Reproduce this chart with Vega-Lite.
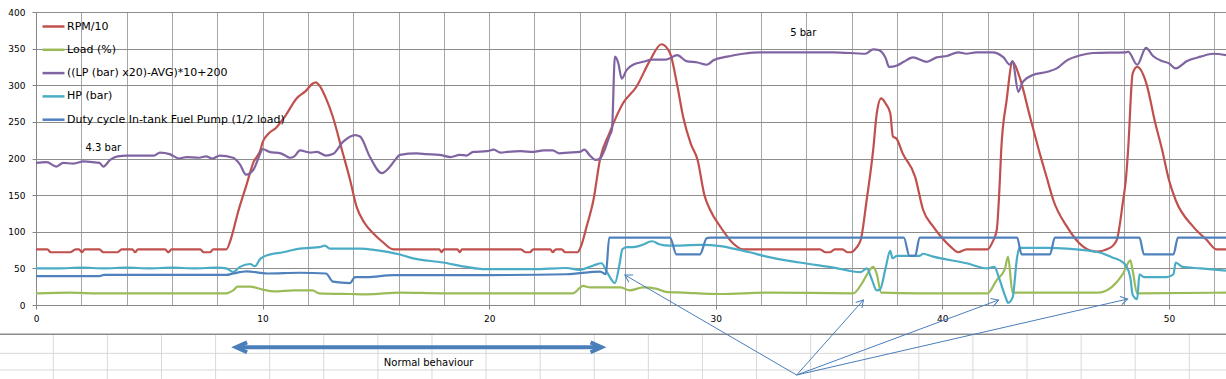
{
  "$schema": "https://vega.github.io/schema/vega-lite/v6.json",
  "width": 1190,
  "height": 293,
  "autosize": "none",
  "padding": {"left": 36, "top": 12, "right": 0, "bottom": 74},
  "background": "white",
  "config": {"view": {"stroke": null}, "font": "DejaVu Sans"},
  "datasets": {
    "rpm": [{"t":0,"v":76},{"t":0.5,"v":76},{"t":0.65,"v":72},{"t":1.5,"v":72},{"t":1.75,"v":76},{"t":1.9,"v":76},{"t":2.02,"v":72},{"t":2.15,"v":76},{"t":2.8,"v":76},{"t":2.97,"v":72},{"t":3.6,"v":72},{"t":3.78,"v":76},{"t":4.25,"v":76},{"t":4.37,"v":72},{"t":4.5,"v":76},{"t":5.7,"v":76},{"t":5.84,"v":72},{"t":5.98,"v":76},{"t":7.25,"v":76},{"t":7.4,"v":72},{"t":7.68,"v":72},{"t":7.82,"v":76},{"t":8.4,"v":76},{"t":8.6,"v":90},{"t":8.9,"v":125},{"t":9.3,"v":165},{"t":9.6,"v":195},{"t":9.9,"v":211},{"t":10.0,"v":222},{"t":10.3,"v":235},{"t":10.6,"v":242},{"t":11.0,"v":258},{"t":11.5,"v":282},{"t":11.9,"v":292},{"t":12.2,"v":302},{"t":12.35,"v":304},{"t":12.5,"v":300},{"t":12.8,"v":282},{"t":13.1,"v":257},{"t":13.5,"v":212},{"t":13.86,"v":171},{"t":14.15,"v":134},{"t":14.5,"v":112},{"t":14.88,"v":98},{"t":15.3,"v":86},{"t":15.77,"v":76},{"t":17.8,"v":76},{"t":17.9,"v":72},{"t":18.0,"v":76},{"t":18.6,"v":76},{"t":18.7,"v":72},{"t":18.8,"v":76},{"t":21.4,"v":76},{"t":21.6,"v":72},{"t":21.8,"v":72},{"t":21.95,"v":76},{"t":22.7,"v":76},{"t":22.8,"v":72},{"t":22.95,"v":76},{"t":23.2,"v":76},{"t":23.35,"v":72},{"t":23.9,"v":72},{"t":24.05,"v":80},{"t":24.3,"v":107},{"t":24.6,"v":143},{"t":24.9,"v":200},{"t":25.3,"v":234},{"t":25.9,"v":275},{"t":26.5,"v":298},{"t":27.1,"v":334},{"t":27.6,"v":356},{"t":27.98,"v":344},{"t":28.3,"v":300},{"t":28.56,"v":257},{"t":28.9,"v":220},{"t":29.2,"v":198},{"t":29.5,"v":150},{"t":29.75,"v":130},{"t":30.2,"v":107},{"t":30.77,"v":84},{"t":31.2,"v":76},{"t":34.6,"v":76},{"t":34.85,"v":72},{"t":35.05,"v":72},{"t":35.25,"v":76},{"t":35.6,"v":76},{"t":35.8,"v":72},{"t":35.95,"v":72},{"t":36.2,"v":78},{"t":36.4,"v":89},{"t":36.66,"v":143},{"t":36.95,"v":212},{"t":37.1,"v":260},{"t":37.3,"v":282},{"t":37.5,"v":275},{"t":37.7,"v":262},{"t":37.82,"v":230},{"t":37.98,"v":227},{"t":38.25,"v":207},{"t":38.8,"v":175},{"t":39.15,"v":130},{"t":39.6,"v":107},{"t":40.0,"v":91},{"t":40.35,"v":80},{"t":40.7,"v":72},{"t":41.07,"v":76},{"t":42.0,"v":76},{"t":42.2,"v":85},{"t":42.4,"v":102},{"t":42.54,"v":171},{"t":42.6,"v":212},{"t":42.84,"v":280},{"t":43.1,"v":332},{"t":43.4,"v":312},{"t":43.87,"v":257},{"t":44.3,"v":207},{"t":44.6,"v":175},{"t":44.9,"v":143},{"t":45.5,"v":107},{"t":46.2,"v":80},{"t":46.8,"v":73},{"t":47.4,"v":78},{"t":47.7,"v":89},{"t":47.98,"v":143},{"t":48.1,"v":171},{"t":48.2,"v":212},{"t":48.4,"v":316},{"t":48.6,"v":325},{"t":49.0,"v":303},{"t":49.4,"v":248},{"t":49.7,"v":212},{"t":50.0,"v":171},{"t":50.3,"v":143},{"t":51.07,"v":107},{"t":51.66,"v":89},{"t":52.1,"v":76},{"t":52.52,"v":76}],
    "load": [{"t":0,"v":16},{"t":1.5,"v":17},{"t":2.5,"v":16},{"t":8.4,"v":16},{"t":8.7,"v":20},{"t":8.9,"v":25},{"t":9.45,"v":25},{"t":10.0,"v":21},{"t":10.5,"v":18.5},{"t":11.4,"v":20},{"t":12.2,"v":20},{"t":12.5,"v":16},{"t":13.86,"v":15},{"t":14.6,"v":14.6},{"t":16.06,"v":17},{"t":17.96,"v":16},{"t":23.7,"v":16},{"t":24.15,"v":26},{"t":24.45,"v":24},{"t":25.8,"v":24},{"t":26.2,"v":20},{"t":26.8,"v":24},{"t":27.4,"v":22},{"t":27.8,"v":18},{"t":28.56,"v":17},{"t":30.2,"v":15},{"t":32.25,"v":17},{"t":36.07,"v":16},{"t":36.5,"v":32},{"t":36.7,"v":43},{"t":36.95,"v":52},{"t":37.1,"v":43},{"t":37.3,"v":17},{"t":39.0,"v":16},{"t":42.0,"v":16},{"t":42.4,"v":34},{"t":42.76,"v":49},{"t":42.9,"v":66},{"t":43.1,"v":17},{"t":46.9,"v":17},{"t":47.5,"v":25},{"t":47.98,"v":43},{"t":48.3,"v":61},{"t":48.4,"v":47},{"t":48.6,"v":16},{"t":52.52,"v":17}],
    "lp": [{"t":0,"v":194},{"t":0.47,"v":195},{"t":0.9,"v":189},{"t":1.2,"v":194},{"t":1.65,"v":193},{"t":2.1,"v":196},{"t":2.5,"v":195},{"t":2.8,"v":194},{"t":2.97,"v":189},{"t":3.27,"v":198},{"t":3.6,"v":203},{"t":4.0,"v":204},{"t":5.2,"v":204},{"t":5.47,"v":208},{"t":5.9,"v":206},{"t":6.3,"v":200},{"t":6.65,"v":202},{"t":7.2,"v":201},{"t":7.5,"v":203},{"t":7.8,"v":200},{"t":8.1,"v":204},{"t":8.7,"v":201},{"t":9.0,"v":192},{"t":9.27,"v":178},{"t":9.6,"v":185},{"t":9.9,"v":207},{"t":10.0,"v":213},{"t":10.3,"v":209},{"t":10.8,"v":207},{"t":11.0,"v":204},{"t":11.2,"v":201},{"t":11.4,"v":203},{"t":11.65,"v":211},{"t":12.1,"v":208},{"t":12.4,"v":209},{"t":12.8,"v":204},{"t":13.1,"v":206},{"t":13.56,"v":223},{"t":14.08,"v":232},{"t":14.3,"v":230},{"t":14.74,"v":202},{"t":15.26,"v":180},{"t":15.6,"v":188},{"t":15.9,"v":200},{"t":16.06,"v":205},{"t":16.8,"v":207},{"t":17.24,"v":206},{"t":17.8,"v":205},{"t":18.3,"v":202},{"t":18.7,"v":205},{"t":19.0,"v":204},{"t":19.3,"v":209},{"t":19.9,"v":210},{"t":20.2,"v":212},{"t":20.5,"v":208},{"t":20.8,"v":209},{"t":21.4,"v":210},{"t":21.95,"v":209},{"t":22.4,"v":211},{"t":22.8,"v":211},{"t":23.1,"v":207},{"t":23.5,"v":208},{"t":24.0,"v":209},{"t":24.2,"v":212},{"t":24.45,"v":204},{"t":24.7,"v":198},{"t":24.9,"v":200},{"t":25.1,"v":212},{"t":25.3,"v":230},{"t":25.42,"v":240},{"t":25.55,"v":339},{"t":25.7,"v":330},{"t":25.85,"v":309},{"t":26.07,"v":321},{"t":26.35,"v":328},{"t":26.8,"v":332},{"t":27.2,"v":335},{"t":27.8,"v":335},{"t":28.3,"v":341},{"t":28.7,"v":333},{"t":29.2,"v":331},{"t":29.6,"v":328},{"t":29.9,"v":334},{"t":30.5,"v":339},{"t":30.8,"v":341},{"t":31.2,"v":343},{"t":31.95,"v":345},{"t":32.5,"v":345},{"t":33.7,"v":345},{"t":35.2,"v":345},{"t":36.6,"v":343},{"t":36.95,"v":349},{"t":37.2,"v":348},{"t":37.5,"v":337},{"t":37.65,"v":325},{"t":38.0,"v":327},{"t":38.3,"v":332},{"t":38.7,"v":338},{"t":39.3,"v":332},{"t":39.75,"v":338},{"t":40.2,"v":340},{"t":40.7,"v":345},{"t":41.07,"v":343},{"t":41.5,"v":345},{"t":42.2,"v":345},{"t":42.7,"v":338},{"t":42.98,"v":328},{"t":43.1,"v":333},{"t":43.35,"v":291},{"t":43.56,"v":305},{"t":44.0,"v":314},{"t":44.6,"v":318},{"t":45.05,"v":323},{"t":45.5,"v":334},{"t":46.1,"v":341},{"t":46.65,"v":344},{"t":48.1,"v":345},{"t":48.2,"v":346},{"t":48.6,"v":328},{"t":48.99,"v":351},{"t":49.3,"v":340},{"t":49.7,"v":333},{"t":50.0,"v":330},{"t":50.3,"v":323},{"t":50.8,"v":333},{"t":51.4,"v":339},{"t":51.95,"v":343},{"t":52.52,"v":341}],
    "hp": [{"t":0,"v":50},{"t":1,"v":50},{"t":2,"v":51},{"t":3,"v":50},{"t":4,"v":51},{"t":5,"v":50},{"t":6,"v":51},{"t":7,"v":50},{"t":8,"v":51},{"t":8.4,"v":50},{"t":8.7,"v":45},{"t":9.0,"v":52},{"t":9.45,"v":56},{"t":9.66,"v":53},{"t":9.9,"v":63},{"t":10.2,"v":68},{"t":10.9,"v":72},{"t":11.65,"v":77},{"t":12.1,"v":78},{"t":12.5,"v":79},{"t":12.75,"v":81},{"t":12.97,"v":77},{"t":14.3,"v":77},{"t":15.0,"v":75},{"t":16.06,"v":69},{"t":16.6,"v":64},{"t":17.96,"v":58},{"t":19.0,"v":52},{"t":19.7,"v":49},{"t":21.95,"v":49},{"t":23.4,"v":50.5},{"t":24.0,"v":48},{"t":24.6,"v":54},{"t":24.96,"v":57},{"t":25.2,"v":45},{"t":25.55,"v":30},{"t":25.75,"v":55},{"t":25.88,"v":76},{"t":26.07,"v":79},{"t":26.35,"v":79},{"t":26.66,"v":81},{"t":27.2,"v":87},{"t":27.5,"v":83},{"t":27.98,"v":81},{"t":29.3,"v":82},{"t":30.3,"v":80},{"t":30.77,"v":77},{"t":31.5,"v":72},{"t":32.25,"v":66},{"t":33.7,"v":58},{"t":35.2,"v":51},{"t":36.4,"v":45},{"t":36.66,"v":50},{"t":36.9,"v":34},{"t":37.1,"v":20},{"t":37.25,"v":21},{"t":37.5,"v":51},{"t":37.7,"v":74},{"t":37.8,"v":64},{"t":38.0,"v":67},{"t":39.0,"v":67},{"t":39.15,"v":70},{"t":39.6,"v":66},{"t":41.07,"v":57},{"t":42.0,"v":50},{"t":42.3,"v":52},{"t":42.5,"v":37},{"t":42.8,"v":10},{"t":42.9,"v":3},{"t":43.1,"v":10},{"t":43.3,"v":65},{"t":43.4,"v":78},{"t":44.7,"v":78},{"t":45.5,"v":77},{"t":46.9,"v":72},{"t":47.5,"v":65},{"t":47.98,"v":58},{"t":48.1,"v":54},{"t":48.3,"v":37},{"t":48.4,"v":14},{"t":48.6,"v":8},{"t":48.7,"v":42},{"t":48.9,"v":38},{"t":49.9,"v":38},{"t":50.2,"v":42},{"t":50.3,"v":58},{"t":50.6,"v":52},{"t":51.4,"v":50},{"t":52.52,"v":47}],
    "duty": [{"t":0,"v":39.5},{"t":2.8,"v":39.5},{"t":3.0,"v":41},{"t":8.4,"v":41},{"t":8.7,"v":43},{"t":9.3,"v":46},{"t":10.2,"v":43},{"t":11.65,"v":44},{"t":12.8,"v":43},{"t":13.1,"v":32},{"t":13.86,"v":30},{"t":14.08,"v":38},{"t":14.6,"v":38},{"t":15.77,"v":40.7},{"t":19,"v":40.7},{"t":23.4,"v":42},{"t":24.9,"v":45.6},{"t":25.15,"v":42},{"t":25.3,"v":92},{"t":27.98,"v":92},{"t":28.27,"v":69},{"t":29.3,"v":69},{"t":29.6,"v":91},{"t":29.75,"v":92},{"t":38.3,"v":92},{"t":38.55,"v":67},{"t":38.8,"v":67},{"t":39.0,"v":92},{"t":43.3,"v":92},{"t":43.5,"v":69},{"t":44.75,"v":69},{"t":44.97,"v":92},{"t":48.7,"v":92},{"t":48.9,"v":69},{"t":50.2,"v":69},{"t":50.4,"v":92},{"t":52.52,"v":92}],
    "cellx": [{"t":0.763,"v":-40,"v2":-101},{"t":3.151,"v":-40,"v2":-101},{"t":5.538,"v":-40,"v2":-101},{"t":7.926,"v":-40,"v2":-101},{"t":10.313,"v":-40,"v2":-101},{"t":12.701,"v":-40,"v2":-101},{"t":15.088,"v":-40,"v2":-101},{"t":17.476,"v":-40,"v2":-101},{"t":19.863,"v":-40,"v2":-101},{"t":22.251,"v":-40,"v2":-101},{"t":24.638,"v":-40,"v2":-101},{"t":27.026,"v":-40,"v2":-101},{"t":29.413,"v":-40,"v2":-101},{"t":31.801,"v":-40,"v2":-101},{"t":34.188,"v":-40,"v2":-101},{"t":36.576,"v":-40,"v2":-101},{"t":38.963,"v":-40,"v2":-101},{"t":41.351,"v":-40,"v2":-101},{"t":43.738,"v":-40,"v2":-101},{"t":46.126,"v":-40,"v2":-101},{"t":48.513,"v":-40,"v2":-101},{"t":50.901,"v":-40,"v2":-101}],
    "celly": [{"v":-66,"t":-1.6,"t2":52.6},{"v":-88.7,"t":-1.6,"t2":52.6}],
    "border": [{"v":-40,"t":-1.6,"t2":52.6}],
    "notes": [{"t":2.97,"v":214.8,"label":"4.3 bar"},{"t":33.86,"v":372,"label":"5 bar"},{"t":17.33,"v":-79.6,"label":"Normal behaviour"}],
    "shaft": [{"t":8.95,"v":-57.8,"t2":24.84}],
    "headL": [{"t":8.83,"v":-57.8}],
    "headR": [{"t":24.96,"v":-57.8}],
    "thin": [{"t":33.57,"v":-95.6,"t2":25.99,"v2":40.96},{"t":33.57,"v":-95.6,"t2":36.52,"v2":6.83},{"t":33.57,"v":-95.6,"t2":42.48,"v2":6.83},{"t":33.57,"v":-95.6,"t2":48.18,"v2":8.19}],
    "thinHeads": [{"t":25.99,"v":40.96,"id":1},{"t":36.52,"v":6.83,"id":2},{"t":42.48,"v":6.83,"id":3},{"t":48.18,"v":8.19,"id":4}]
  },
  "encoding": {
    "x": {"field": "t", "type": "quantitative",
      "scale": {"domain": [0, 52.52], "nice": false, "zero": false},
      "axis": {"title": null, "values": [0,2,4,6,8,10,12,14,16,18,20,22,24,26,28,30,32,34,36,38,40,42,44,46,48,50,52],
        "labelExpr": "datum.value % 10 === 0 ? datum.label : ''",
        "labelFlush": false, "labelOverlap": false, "labelFontSize": 9, "labelColor": "#000000", "labelFont": "DejaVu Sans",
        "labelPadding": 5, "tickSize": 4, "tickColor": "#868686",
        "tickOpacity": {"condition": {"test": "datum.value % 10 === 0", "value": 1}, "value": 0},
        "domainColor": "#868686", "grid": true, "gridColor": "#a6a6a6", "gridWidth": 1}},
    "y": {"field": "v", "type": "quantitative",
      "scale": {"domain": [0, 400], "nice": false, "zero": false},
      "axis": {"title": null, "values": [0,50,100,150,200,250,300,350,400],
        "labelFontSize": 9, "labelColor": "#000000", "labelFont": "DejaVu Sans", "labelPadding": 7,
        "tickSize": 4, "tickColor": "#868686", "domainColor": "#868686",
        "grid": true, "gridColor": "#8c8c8c", "gridWidth": 1}}
  },
  "layer": [
    {"data": {"name": "rpm"}, "mark": {"type": "line", "interpolate": "monotone", "strokeWidth": 2.2},
     "encoding": {"color": {"datum": "RPM/10",
       "scale": {"domain": ["RPM/10", "Load (%)", "((LP (bar) x20)-AVG)*10+200", "HP (bar)", "Duty cycle In-tank Fuel Pump (1/2 load)"],
                 "range": ["#C0504D", "#9BBB59", "#8064A2", "#4BACC6", "#4F81BD"]},
       "legend": {"orient": "none", "legendX": 5, "legendY": 2, "title": null, "padding": 0,
         "symbolType": "stroke", "symbolSize": 484, "symbolStrokeWidth": 2.5,
         "labelFont": "DejaVu Sans", "labelFontSize": 11, "labelColor": "#000000", "labelOffset": 1,
         "rowPadding": 5.3, "labelLimit": 400}}}},
    {"data": {"name": "cellx"}, "mark": {"type": "rule", "color": "#d9d9d9", "strokeWidth": 1},
     "encoding": {"y2": {"field": "v2"}}},
    {"data": {"name": "celly"}, "mark": {"type": "rule", "color": "#d9d9d9", "strokeWidth": 1},
     "encoding": {"x2": {"field": "t2"}}},
    {"data": {"name": "border"}, "mark": {"type": "rule", "color": "#8c8c8c", "strokeWidth": 1.5},
     "encoding": {"x2": {"field": "t2"}}},
    {"data": {"name": "load"}, "mark": {"type": "line", "interpolate": "monotone", "strokeWidth": 2.2},
     "encoding": {"color": {"datum": "Load (%)"}}},
    {"data": {"name": "lp"}, "mark": {"type": "line", "interpolate": "monotone", "strokeWidth": 2.2},
     "encoding": {"color": {"datum": "((LP (bar) x20)-AVG)*10+200"}}},
    {"data": {"name": "hp"}, "mark": {"type": "line", "interpolate": "monotone", "strokeWidth": 2.2},
     "encoding": {"color": {"datum": "HP (bar)"}}},
    {"data": {"name": "duty"}, "mark": {"type": "line", "interpolate": "monotone", "strokeWidth": 2.2},
     "encoding": {"color": {"datum": "Duty cycle In-tank Fuel Pump (1/2 load)"}}},
    {"data": {"name": "notes"}, "mark": {"type": "text", "font": "DejaVu Sans", "fontSize": 10, "color": "#000000", "align": "center", "baseline": "middle"},
     "encoding": {"text": {"field": "label"}}},
    {"data": {"name": "shaft"}, "mark": {"type": "rule", "color": "#4a7ebb", "strokeWidth": 4},
     "encoding": {"x2": {"field": "t2"}}},
    {"data": {"name": "headL"}, "mark": {"type": "point", "shape": "M1,-0.45L0,0L1,0.45", "size": 484, "filled": false, "color": "#4a7ebb", "strokeWidth": 4, "opacity": 1}},
    {"data": {"name": "headR"}, "mark": {"type": "point", "shape": "M-1,-0.45L0,0L-1,0.45", "size": 484, "filled": false, "color": "#4a7ebb", "strokeWidth": 4, "opacity": 1}},
    {"data": {"name": "thin"}, "mark": {"type": "rule", "color": "#4a7ebb", "strokeWidth": 1},
     "encoding": {"x2": {"field": "t2"}, "y2": {"field": "v2"}}},
    {"data": {"name": "thinHeads"}, "mark": {"type": "point", "shape": "M-1,-0.6L0,0L-1,0.6", "size": 196, "filled": false, "color": "#4a7ebb", "strokeWidth": 1, "opacity": 1},
     "encoding": {"angle": {"field": "id", "type": "quantitative", "scale": {"type": "threshold", "domain": [1.5, 2.5, 3.5], "range": [210.2, 311.7, 339.6, 347.1]}, "legend": null}}}
  ]
}
